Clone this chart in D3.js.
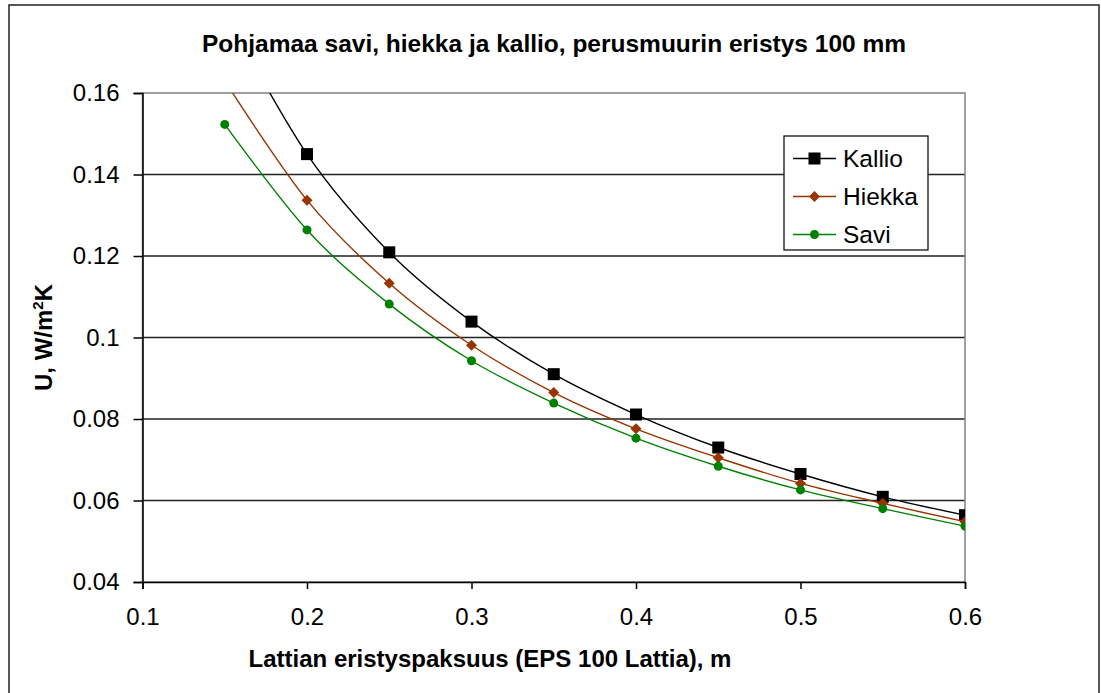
<!DOCTYPE html>
<html>
<head>
<meta charset="utf-8">
<script src="https://cdn.jsdelivr.net/npm/d3@7"></script>
<style>
    html, body { margin: 0; padding: 0; background: #fff; }
    svg { display: block; font-family: "Liberation Sans", Arial, sans-serif; }
</style>
</head>
<body>
<div id="chart"></div>
<script>
const thickness = [0.15, 0.2, 0.25, 0.3, 0.35, 0.4, 0.45, 0.5, 0.55, 0.6];
const kallio = [0.180, 0.1450, 0.1209, 0.1039, 0.0910, 0.0811, 0.0730, 0.0665, 0.0609, 0.0564];
const hiekka = [0.163, 0.1337, 0.1133, 0.0981, 0.0865, 0.0776, 0.0705, 0.0642, 0.0593, 0.0548];
const savi = [0.1523, 0.1264, 0.1082, 0.0943, 0.0839, 0.0753, 0.0684, 0.0626, 0.0580, 0.0537];
const seriesNames = ['Kallio', 'Hiekka', 'Savi'];
const xTicks = [0.1, 0.2, 0.3, 0.4, 0.5, 0.6];
const yTicks = [0.04, 0.06, 0.08, 0.1, 0.12, 0.14, 0.16];

const width = 1101;
const height = 693;
const plot = {left: 142.5, top: 93, right: 965, bottom: 582};

const series = [
    {name: seriesNames[0], values: kallio, color: '#000000', marker: 'square'},
    {name: seriesNames[1], values: hiekka, color: '#993300', marker: 'diamond'},
    {name: seriesNames[2], values: savi, color: '#008000', marker: 'circle'}
];

const svg = d3.select('#chart')
    .append('svg')
    .attr('width', width)
    .attr('height', height);

// chart area border
svg.append('rect')
    .attr('x', 9).attr('y', 5)
    .attr('width', 1090).attr('height', 700)
    .attr('fill', '#fff')
    .attr('stroke', '#222')
    .attr('stroke-width', 1.5);

const x = d3.scaleLinear().domain([0.1, 0.6]).range([plot.left, plot.right]);
const y = d3.scaleLinear().domain([0.04, 0.16]).range([plot.bottom, plot.top]);

svg.append('clipPath')
    .attr('id', 'plot-clip')
    .append('rect')
    .attr('x', plot.left).attr('y', plot.top)
    .attr('width', plot.right - plot.left)
    .attr('height', plot.bottom - plot.top);

// gridlines
svg.append('g')
    .selectAll('line')
    .data(yTicks.filter(d => d > 0.04 && d < 0.16))
    .join('line')
    .attr('x1', plot.left).attr('x2', plot.right)
    .attr('y1', d => y(d)).attr('y2', d => y(d))
    .attr('stroke', '#222')
    .attr('stroke-width', 1.5);

// plot area border
svg.append('rect')
    .attr('x', plot.left).attr('y', plot.top)
    .attr('width', plot.right - plot.left)
    .attr('height', plot.bottom - plot.top)
    .attr('fill', 'none')
    .attr('stroke', '#808080')
    .attr('stroke-width', 1.5);

const xAxis = svg.append('g')
    .attr('transform', `translate(0, ${plot.bottom})`)
    .call(d3.axisBottom(x).tickValues(xTicks).tickFormat(d3.format('~g')).tickSize(7).tickPadding(19));

const yAxis = svg.append('g')
    .attr('transform', `translate(${plot.left}, 0)`)
    .call(d3.axisLeft(y).tickValues(yTicks).tickFormat(d3.format('~g')).tickSize(9).tickPadding(14));

[xAxis, yAxis].forEach(ax => {
    ax.select('.domain').attr('stroke', '#000').attr('stroke-width', 1.5);
    ax.selectAll('.tick line').attr('stroke', '#000').attr('stroke-width', 1.5);
    ax.selectAll('.tick text')
        .attr('fill', '#000')
        .style('font-family', '"Liberation Sans", Arial, sans-serif')
        .style('font-size', '24px');
});

const line = d3.line()
    .x((d, i) => x(thickness[i]))
    .y(d => y(d))
    .curve(d3.curveCatmullRom.alpha(0));

const plotG = svg.append('g').attr('clip-path', 'url(#plot-clip)');

function drawMarker(g, type, color, cx, cy) {
    if (type === 'square') {
        g.append('rect')
            .attr('x', cx - 6).attr('y', cy - 6)
            .attr('width', 12).attr('height', 12)
            .attr('fill', color);
    } else if (type === 'diamond') {
        g.append('path')
            .attr('d', `M${cx},${cy - 5.5}L${cx + 5.5},${cy}L${cx},${cy + 5.5}L${cx - 5.5},${cy}Z`)
            .attr('fill', color);
    } else {
        g.append('circle')
            .attr('cx', cx).attr('cy', cy)
            .attr('r', 4.5)
            .attr('fill', color);
    }
}

series.forEach(s => {
    plotG.append('path')
        .datum(s.values)
        .attr('d', line)
        .attr('fill', 'none')
        .attr('stroke', s.color)
        .attr('stroke-width', 1.4);
    s.values.forEach((v, i) => drawMarker(plotG, s.marker, s.color, x(thickness[i]), y(v)));
});

// legend
const legend = svg.append('g');
legend.append('rect')
    .attr('x', 784).attr('y', 136)
    .attr('width', 144).attr('height', 114)
    .attr('fill', '#fff')
    .attr('stroke', '#000')
    .attr('stroke-width', 1.2);

series.forEach((s, i) => {
    const ly = 158.5 + i * 38;
    legend.append('line')
        .attr('x1', 793).attr('x2', 836)
        .attr('y1', ly).attr('y2', ly)
        .attr('stroke', s.color)
        .attr('stroke-width', 1.4);
    drawMarker(legend, s.marker, s.color, 814.5, ly);
    legend.append('text')
        .attr('x', 843)
        .attr('y', ly)
        .attr('dy', '0.36em')
        .attr('fill', '#000')
        .style('font-size', '24.5px')
        .text(s.name);
});

svg.append('text')
    .attr('x', 554)
    .attr('y', 52)
    .attr('text-anchor', 'middle')
    .attr('fill', '#000')
    .style('font-size', '24.5px')
    .style('font-weight', 'bold')
    .text('Pohjamaa savi, hiekka ja kallio, perusmuurin eristys 100 mm');

svg.append('text')
    .attr('x', 490)
    .attr('y', 667)
    .attr('text-anchor', 'middle')
    .attr('fill', '#000')
    .style('font-size', '24px')
    .style('font-weight', 'bold')
    .text('Lattian eristyspaksuus (EPS 100 Lattia), m');

const yTitle = svg.append('text')
    .attr('transform', `translate(52, ${(plot.top + plot.bottom) / 2}) rotate(-90)`)
    .attr('text-anchor', 'middle')
    .attr('fill', '#000')
    .style('font-size', '24px')
    .style('font-weight', 'bold');
yTitle.append('tspan').text('U, W/m');
yTitle.append('tspan').attr('dy', '-9').style('font-size', '15px').text('2');
yTitle.append('tspan').attr('dy', '9').text('K');
</script>
</body>
</html>
